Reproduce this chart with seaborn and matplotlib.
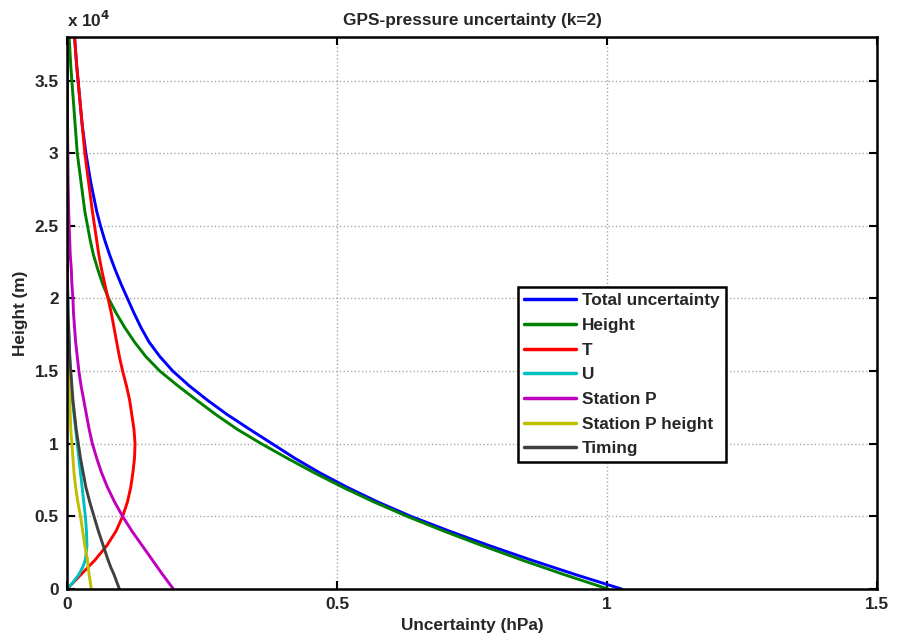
import matplotlib
matplotlib.use("Agg")
import matplotlib.pyplot as plt
import seaborn as sns
import pandas as pd

# ---------------- data ----------------
heights = [0, 500, 1000, 1500, 2000, 3000, 4000, 5000, 6000, 7000, 8000, 9000,
           10000, 11000, 12000, 13000, 14000, 15000, 16000, 17000, 18000, 19000,
           20000, 21000, 22000, 23000, 24000, 25000, 26000, 28000, 30000, 32000,
           34000, 36000, 38000]

total_unc = [1.027, 0.984, 0.941, 0.900, 0.859, 0.781, 0.707, 0.637, 0.575, 0.519,
             0.468, 0.422, 0.380, 0.338, 0.297, 0.260, 0.226, 0.196, 0.172, 0.152,
             0.137, 0.124, 0.112, 0.100, 0.089, 0.079, 0.070, 0.062, 0.055, 0.044,
             0.035, 0.028, 0.023, 0.018, 0.014]
height_unc = [1.002, 0.961, 0.920, 0.881, 0.842, 0.768, 0.697, 0.630, 0.568, 0.511,
              0.458, 0.408, 0.360, 0.315, 0.276, 0.240, 0.205, 0.172, 0.146, 0.125,
              0.107, 0.091, 0.077, 0.066, 0.057, 0.049, 0.043, 0.038, 0.033, 0.026,
              0.019, 0.015, 0.011, 0.007, 0.004]
t_unc = [0.0, 0.013, 0.026, 0.039, 0.052, 0.074, 0.091, 0.103, 0.112, 0.118,
         0.122, 0.125, 0.126, 0.124, 0.120, 0.116, 0.110, 0.103, 0.097, 0.092,
         0.087, 0.082, 0.076, 0.070, 0.064, 0.059, 0.055, 0.051, 0.047, 0.040,
         0.033, 0.028, 0.023, 0.018, 0.014]
u_unc = [0.0, 0.012, 0.022, 0.029, 0.034, 0.037, 0.036, 0.034, 0.031, 0.028,
         0.025, 0.022, 0.019, 0.016, 0.013, 0.010, 0.008, 0.006, 0.005, 0.004,
         0.003, 0.002, 0.0015, 0.001, 0.0008, 0.0006, 0.0005, 0.0004, 0.0003, 0.0002,
         0.0001, 0.0001, 0.0001, 0.0001, 0.0001]
station_p = [0.197, 0.187, 0.177, 0.1675, 0.158, 0.139, 0.120, 0.103, 0.088, 0.075,
             0.064, 0.055, 0.047, 0.041, 0.036, 0.031, 0.026, 0.022, 0.019, 0.016,
             0.014, 0.012, 0.011, 0.009, 0.008, 0.006, 0.005, 0.004, 0.003, 0.002,
             0.0015, 0.001, 0.0008, 0.0006, 0.0005]
station_p_height = [0.045, 0.043, 0.041, 0.039, 0.038, 0.033, 0.029, 0.025, 0.020, 0.016,
                    0.013, 0.011, 0.009, 0.007, 0.006, 0.005, 0.004, 0.003, 0.0025, 0.002,
                    0.0015, 0.001, 0.0008, 0.0006, 0.0005, 0.0004, 0.0003, 0.0003, 0.0002,
                    0.0002, 0.0001, 0.0001, 0.0001, 0.0001, 0.0001]
timing = [0.097, 0.092, 0.087, 0.081, 0.076, 0.067, 0.058, 0.050, 0.042, 0.035,
          0.030, 0.025, 0.021, 0.017, 0.014, 0.011, 0.009, 0.007, 0.005, 0.004,
          0.003, 0.002, 0.0015, 0.001, 0.0008, 0.0006, 0.0005, 0.0004, 0.0003, 0.0002,
          0.0002, 0.0001, 0.0001, 0.0001, 0.0001]

series_names = ["Total uncertainty", "Height", "T", "U", "Station P",
                "Station P height", "Timing"]
series_values = [total_unc, height_unc, t_unc, u_unc, station_p,
                 station_p_height, timing]
series_colors = ["#0000ff", "#008000", "#ff0000", "#00bfbf", "#bf00bf",
                 "#bfbf00", "#404040"]

x_ticks = [0, 0.5, 1, 1.5]
x_ticklabels = ["0", "0.5", "1", "1.5"]
y_ticks = [0, 5000, 10000, 15000, 20000, 25000, 30000, 35000]
y_ticklabels = ["0", "0.5", "1", "1.5", "2", "2.5", "3", "3.5"]

title = "GPS-pressure uncertainty (k=2)"
x_label = "Uncertainty (hPa)"
y_label = "Height (m)"

# ---------------- figure ----------------
sns.set_theme(style="white")
plt.rcParams["font.family"] = ["Liberation Sans", "DejaVu Sans"]
plt.rcParams["font.weight"] = "bold"

FS = 12.4

rows = []
for name, vals in zip(series_names, series_values):
    for h, v in zip(heights, vals):
        rows.append({"series": name, "height": h, "unc": v})
df = pd.DataFrame(rows)

fig = plt.figure(figsize=(9.03, 6.36), dpi=100)
ax = fig.add_axes([67 / 903, 1 - 589 / 636, 810 / 903, 552 / 636])

sns.lineplot(data=df, x="unc", y="height", hue="series", hue_order=series_names,
             palette=dict(zip(series_names, series_colors)), sort=False,
             estimator=None, orient="y", linewidth=2.1, ax=ax, legend=True)

ax.set_xlim(0, 1.5)
ax.set_ylim(0, 38000)
ax.set_xticks(x_ticks)
ax.set_xticklabels(x_ticklabels, fontsize=FS, fontweight="bold")
ax.set_yticks(y_ticks)
ax.set_yticklabels(y_ticklabels, fontsize=FS, fontweight="bold")
ax.tick_params(direction="in", length=6, width=1.5, top=True, right=True,
               bottom=True, left=True, color="black", pad=6)
ax.grid(True, linestyle=":", color="#a8a8a8", linewidth=1.0)
for s in ax.spines.values():
    s.set_color("black")
    s.set_linewidth(1.8)

ax.set_title(title, fontsize=FS, fontweight="bold", pad=9)
ax.set_xlabel(x_label, fontsize=FS, fontweight="bold", labelpad=4)
ax.set_ylabel(y_label, fontsize=FS, fontweight="bold", labelpad=5)
ax.text(0.0, 1.012, "x 10$^{\\mathbf{4}}$", transform=ax.transAxes,
        fontsize=FS, fontweight="bold", ha="left", va="bottom")

leg = ax.legend(loc="upper left", bbox_to_anchor=(0.557, 0.547), borderaxespad=0,
                fontsize=FS, frameon=True, fancybox=False, handlelength=3.0,
                handletextpad=0.36, labelspacing=0.56, borderpad=0.35)
leg.get_frame().set_edgecolor("black")
leg.get_frame().set_linewidth(1.8)
leg.get_frame().set_alpha(1)
for t in leg.get_texts():
    t.set_fontweight("bold")
for l in leg.get_lines():
    l.set_linewidth(2.5)

fig.savefig("out.png", dpi=100)
